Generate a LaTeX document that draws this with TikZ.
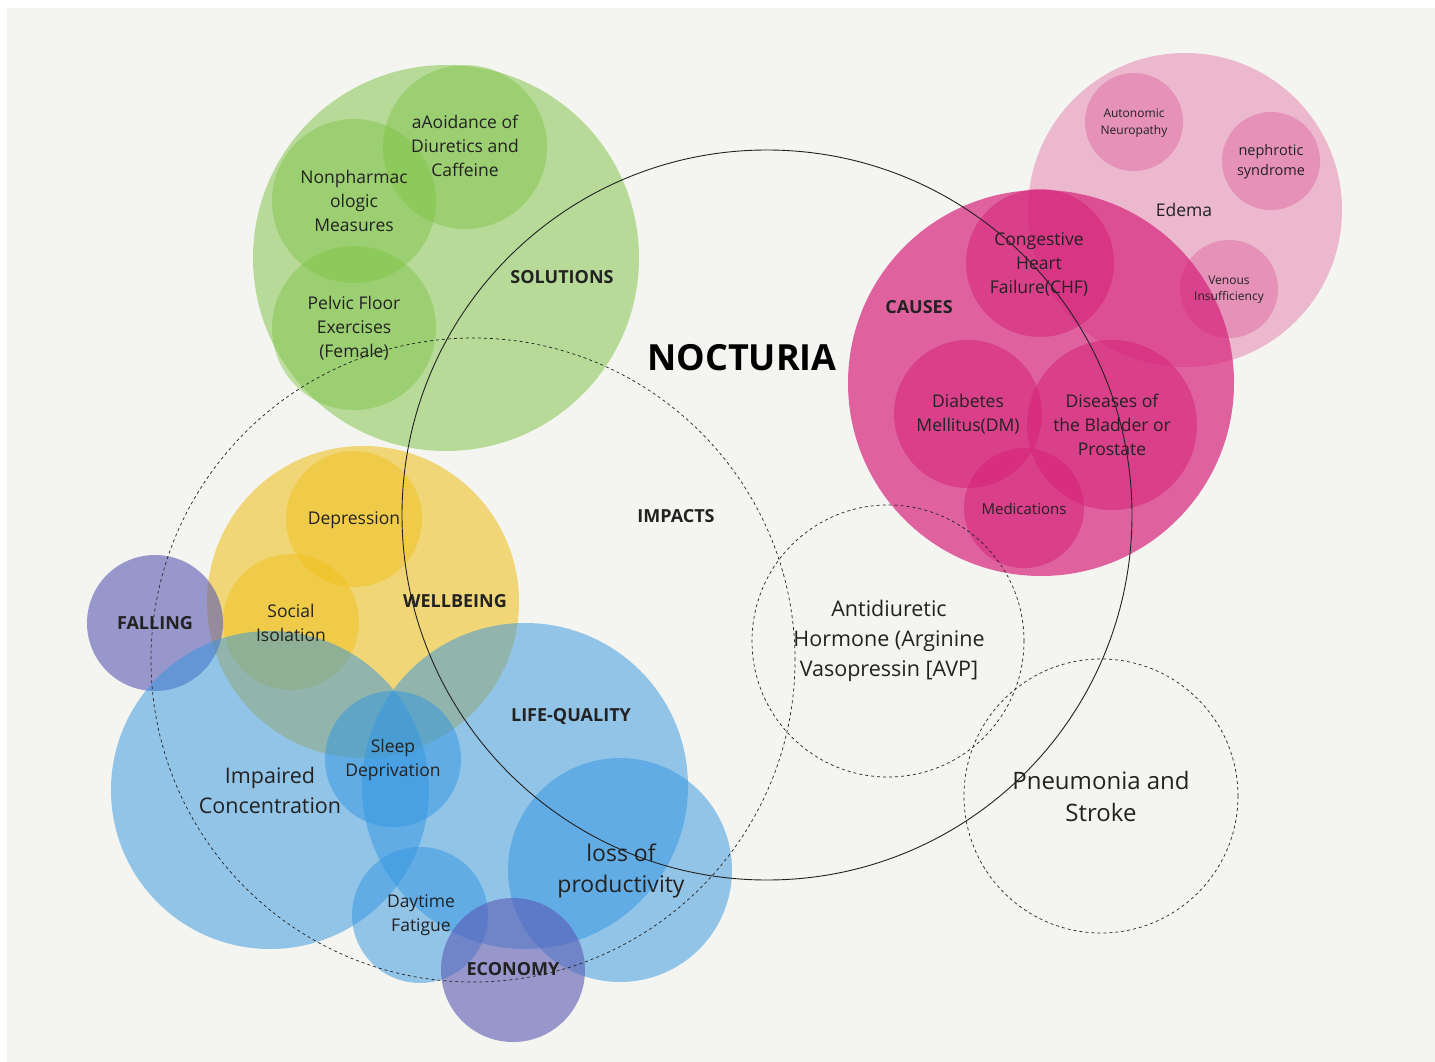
\documentclass[tikz,border=0pt]{standalone}
\usepackage{fontspec}
\setmainfont{Open Sans}
\usepackage{xcolor}
\usetikzlibrary{positioning}

\definecolor{paper}{RGB}{244,244,240}
\definecolor{ink}{RGB}{34,34,34}
\definecolor{leaf}{RGB}{124,194,66}
\definecolor{rose}{RGB}{214,30,120}
\definecolor{sun}{RGB}{240,190,20}
\definecolor{sky}{RGB}{50,150,225}
\definecolor{plum}{RGB}{90,90,180}

\tikzset{
  bubble/.style={circle, inner sep=0pt, minimum size=#1},
  rim/.style={circle, draw=ink, line width=0.9pt, inner sep=0pt, minimum size=#1},
  ring/.style={rim=#1, line width=0.7pt, dash pattern=on 3pt off 3pt},
  lbl/.style={align=center, text=ink, font=\fontsize{17.5}{24}\selectfont},
  head/.style={text=ink, font=\bfseries\fontsize{18}{24}\selectfont}
}

\begin{document}
\begin{tikzpicture}[x=1pt,y=-1pt]
		% Page
		\useasboundingbox (0,0) rectangle (1435,1062);
		\fill[white] (0,0) rectangle (1435,1062);
		\fill[paper] (7,8) rectangle (1435,1062);

		% Solutions
		\node[bubble=386pt, fill=leaf, fill opacity=0.5] (sol) at (446,258) {};
		\node[bubble=164pt, fill=leaf, fill opacity=0.45] (avoid) at (465,147) {};
		\node[bubble=164pt, fill=leaf, fill opacity=0.45] (nonph) at (354,201) {};
		\node[bubble=164pt, fill=leaf, fill opacity=0.45] (pelvic) at (354,328) {};

		% Edema
		\node[bubble=314pt, fill=rose, fill opacity=0.28] (edema) at (1185,210) {};
		\node[bubble=98pt, fill=rose, fill opacity=0.25] (auto) at (1134,122) {};
		\node[bubble=98pt, fill=rose, fill opacity=0.25] (nephro) at (1271,161) {};
		\node[bubble=98pt, fill=rose, fill opacity=0.25] (venous) at (1229,289) {};

		% Causes
		\node[bubble=386pt, fill=rose, fill opacity=0.68] (causes) at (1041,383) {};
		\node[bubble=148pt, fill=rose, fill opacity=0.5] (chf) at (1040,263) {};
		\node[bubble=148pt, fill=rose, fill opacity=0.5] (dm) at (968,414) {};
		\node[bubble=170pt, fill=rose, fill opacity=0.5] (bladder) at (1112,425) {};
		\node[bubble=120pt, fill=rose, fill opacity=0.5] (meds) at (1024,508) {};

		% Wellbeing and falling
		\node[bubble=312pt, fill=sun, fill opacity=0.55] (well) at (363,602) {};
		\node[bubble=136pt, fill=sun, fill opacity=0.45] (dep) at (354,519) {};
		\node[bubble=136pt, fill=sun, fill opacity=0.45] (social) at (291,622) {};
		\node[bubble=136pt, fill=plum, fill opacity=0.6] (fall) at (155,623) {};

		% Life quality
		\node[bubble=318pt, fill=sky, fill opacity=0.5] (impair) at (270,790) {};
		\node[bubble=326pt, fill=sky, fill opacity=0.5] (life) at (525,786) {};
		\node[bubble=136pt, fill=sky, fill opacity=0.5] (sleep) at (393,759) {};
		\node[bubble=224pt, fill=sky, fill opacity=0.5] (loss) at (620,870) {};
		\node[bubble=136pt, fill=sky, fill opacity=0.5] (fatigue) at (420,915) {};
		\node[bubble=144pt, fill=plum, fill opacity=0.6] (econ) at (513,970) {};

		% Outlines
		\node[rim=730pt] (noct) at (767,515) {};
		\node[ring=644pt] (impacts) at (473,660) {};
		\node[ring=272pt] (adh) at (888,641) {};
		\node[ring=274pt] (pneu) at (1101,796) {};

		% Headings
		\node[head, font=\bfseries\fontsize{36}{40}\selectfont, text=black] (title) at (742,358) {NOCTURIA};
		\node[head] (solhead) at (562,277) {SOLUTIONS};
		\node[head] (causehead) at (919,307) {CAUSES};
		\node[head] (imphead) at (676,516) {IMPACTS};
		\node[head] (wellhead) at (455,601) {WELLBEING};
		\node[head] (lifehead) at (571,716) {LIFE-QUALITY};
		\node[head] (fallhead) at (155,623) {FALLING};
		\node[head] (econhead) at (513,969) {ECONOMY};

		% Labels
		\node[lbl] (avoidtxt) at (465,146) {aAoidance of\\Diuretics and\\Caffeine};
		\node[lbl] (nonphtxt) at (354,201) {Nonpharmac\\ologic\\Measures};
		\node[lbl] (pelvictxt) at (354,328) {Pelvic Floor\\Exercises\\(Female)};
		\node[lbl, font=\fontsize{12}{17}\selectfont] (autotxt) at (1134,123) {Autonomic\\Neuropathy};
		\node[lbl, font=\fontsize{14.5}{20}\selectfont] (nephrotxt) at (1271,162) {nephrotic\\syndrome};
		\node[lbl] (edematxt) at (1184,210) {Edema};
		\node[lbl, font=\fontsize{12}{16}\selectfont] (venoustxt) at (1229,290) {Venous\\Insufficiency};
		\node[lbl] (chftxt) at (1039,264) {Congestive\\Heart\\Failure(CHF)};
		\node[lbl] (dmtxt) at (968,414) {Diabetes\\Mellitus(DM)};
		\node[lbl] (bladdertxt) at (1112,425) {Diseases of\\the Bladder or\\Prostate};
		\node[lbl, font=\fontsize{15}{20}\selectfont] (medstxt) at (1024,509) {Medications};
		\node[lbl] (deptxt) at (354,520) {Depression};
		\node[lbl] (socialtxt) at (291,623) {Social\\Isolation};
		\node[lbl] (sleeptxt) at (393,760) {Sleep\\Deprivation};
		\node[lbl, font=\fontsize{21.5}{30}\selectfont] (impairtxt) at (270,790) {Impaired\\Concentration};
		\node[lbl, font=\fontsize{23}{31}\selectfont] (losstxt) at (621,871) {loss of\\productivity};
		\node[lbl] (fatiguetxt) at (421,915) {Daytime\\Fatigue};
		\node[lbl, font=\fontsize{21.5}{30}\selectfont] (adhtxt) at (889,641) {Antidiuretic\\Hormone (Arginine\\Vasopressin [AVP]};
		\node[lbl, font=\fontsize{24}{32}\selectfont] (pneutxt) at (1101,796) {Pneumonia and\\Stroke};
	\end{tikzpicture}
\end{document}
